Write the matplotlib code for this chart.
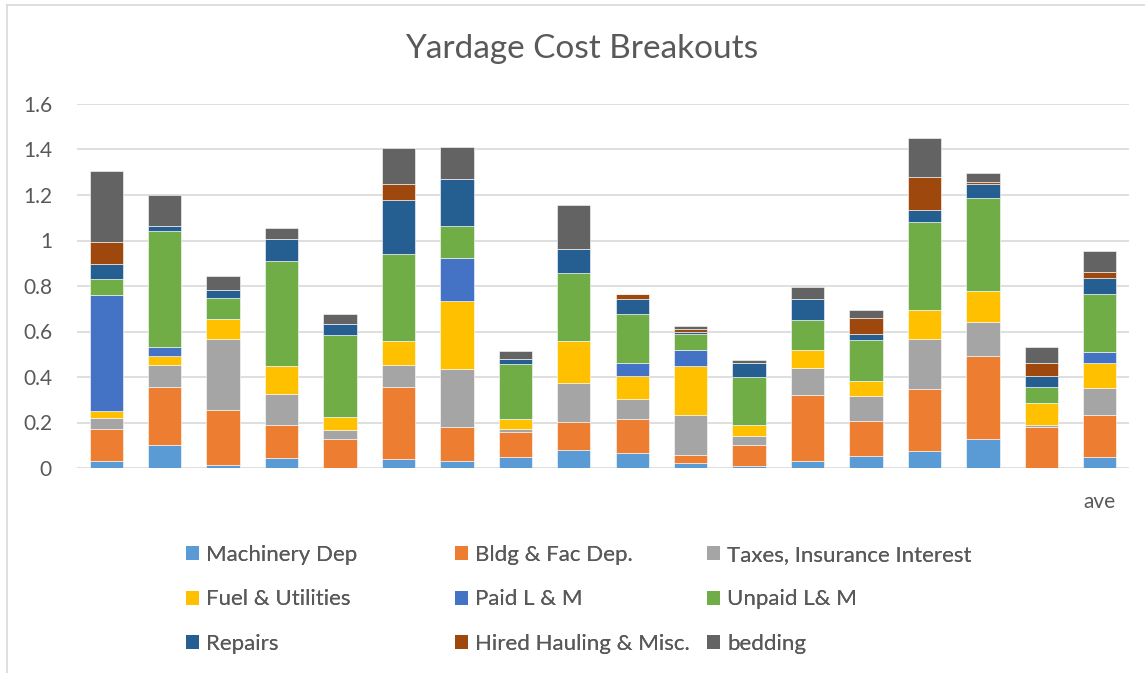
import numpy as np
import matplotlib.pyplot as plt
from matplotlib.patches import Patch
from matplotlib.lines import Line2D

plt.rcParams['font.family'] = ['Lato', 'DejaVu Sans']

# x categories: only the last one carries a label
cat_labels = [''] * 17 + ['ave']

series_names = ['Machinery Dep', 'Bldg & Fac Dep.', 'Taxes, Insurance Interest',
                'Fuel & Utilities', 'Paid L & M', 'Unpaid L& M',
                'Repairs', 'Hired Hauling & Misc.', 'bedding']
colors = ['#5B9BD5', '#ED7D31', '#A5A5A5', '#FFC000', '#4472C4',
          '#70AD47', '#255E91', '#9E480E', '#636363']

machinery = [0.032, 0.103, 0.015, 0.045, 0.000, 0.040, 0.032, 0.048, 0.078,
             0.067, 0.023, 0.010, 0.029, 0.054, 0.075, 0.129, 0.000, 0.047]
bldg      = [0.141, 0.254, 0.241, 0.143, 0.127, 0.317, 0.150, 0.110, 0.126,
             0.148, 0.036, 0.090, 0.290, 0.153, 0.274, 0.365, 0.179, 0.185]
taxes     = [0.047, 0.097, 0.313, 0.137, 0.039, 0.097, 0.255, 0.015, 0.171,
             0.090, 0.172, 0.039, 0.121, 0.111, 0.217, 0.146, 0.009, 0.121]
fuel      = [0.032, 0.040, 0.087, 0.125, 0.060, 0.106, 0.297, 0.044, 0.183,
             0.099, 0.219, 0.051, 0.080, 0.064, 0.127, 0.137, 0.099, 0.109]
paid      = [0.510, 0.038, 0.000, 0.000, 0.000, 0.000, 0.191, 0.000, 0.000,
             0.059, 0.070, 0.000, 0.000, 0.000, 0.000, 0.000, 0.000, 0.049]
unpaid    = [0.070, 0.511, 0.090, 0.460, 0.360, 0.379, 0.139, 0.242, 0.299,
             0.212, 0.070, 0.211, 0.129, 0.181, 0.390, 0.408, 0.071, 0.252]
repairs   = [0.065, 0.019, 0.035, 0.095, 0.048, 0.239, 0.205, 0.019, 0.107,
             0.066, 0.006, 0.062, 0.095, 0.025, 0.050, 0.065, 0.048, 0.071]
hired     = [0.098, 0.000, 0.000, 0.000, 0.000, 0.069, 0.000, 0.000, 0.000,
             0.022, 0.016, 0.000, 0.000, 0.073, 0.145, 0.009, 0.056, 0.029]
bedding   = [0.310, 0.139, 0.063, 0.051, 0.041, 0.160, 0.142, 0.038, 0.191,
             0.004, 0.012, 0.012, 0.052, 0.032, 0.171, 0.038, 0.070, 0.091]

series = [machinery, bldg, taxes, fuel, paid, unpaid, repairs, hired, bedding]

fig = plt.figure(figsize=(11.45, 6.73), dpi=100)
ax = fig.add_axes([77 / 1145, 1 - 468 / 673, (1129 - 77) / 1145, (468 - 104) / 673])

x = np.arange(len(cat_labels))
bottom = np.zeros(len(x))
for vals, name, c in zip(series, series_names, colors):
    vals = np.array(vals)
    ax.bar(x, vals, 0.57, bottom=bottom, color=c, label=name,
           edgecolor='white', linewidth=0.4, zorder=3)
    bottom += vals

ax.set_xlim(-0.5, len(x) - 0.5)
ax.set_ylim(0, 1.6)
ax.set_yticks(np.arange(0, 1.61, 0.2))
ax.set_yticklabels(['0', '0.2', '0.4', '0.6', '0.8', '1', '1.2', '1.4', '1.6'])
ax.set_xticks(x)
ax.set_xticklabels(cat_labels)
ax.tick_params(axis='both', length=0, labelsize=15, labelcolor='#595959')
ax.tick_params(axis='y', pad=18)
ax.tick_params(axis='x', pad=17)
ax.grid(axis='y', color='#D9D9D9', linewidth=1.2, zorder=0)
for s in ax.spines.values():
    s.set_visible(False)

fig.text(582 / 1145, 1 - 49 / 673, 'Yardage Cost Breakouts', ha='center', va='center',
         fontsize=24, color='#595959')

# legend: three equal-width columns like Excel
handles = [Patch(facecolor=c, edgecolor='none') for c in colors]
col_x = [186 / 1145, 455 / 1145, 707 / 1145]
for k in range(3):
    idx = [k, k + 3, k + 6]
    leg = fig.legend([handles[i] for i in idx], [series_names[i] for i in idx],
                     loc='upper left', bbox_to_anchor=(col_x[k], 1 - 545 / 673),
                     frameon=False, fontsize=16, handlelength=0.6, handleheight=0.6,
                     handletextpad=0.3, labelspacing=1.1, borderaxespad=0,
                     borderpad=0, labelcolor='#595959')
    fig.add_artist(leg)

# chart border (top and left visible)
fig.add_artist(Line2D([7 / 1145, 7 / 1145], [0, 1 - 5 / 673], color='#D9D9D9', lw=1.2))
fig.add_artist(Line2D([7 / 1145, 1], [1 - 5 / 673, 1 - 5 / 673], color='#D9D9D9', lw=1.2))

fig.savefig('out.png', dpi=100)
